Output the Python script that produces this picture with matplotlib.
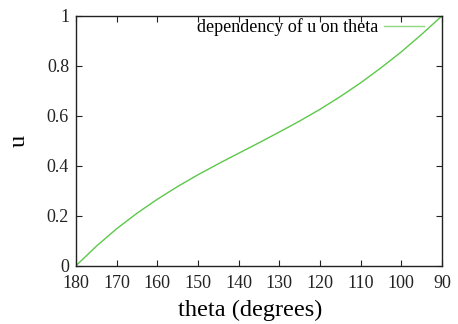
#!/usr/bin/env python3
# u versus theta, gnuplot-like look

import matplotlib
matplotlib.use("Agg")
import matplotlib.pyplot as plt

# values
theta_deg = [180, 175, 170, 165, 160, 155, 150, 145, 140, 135,
             130, 125, 120, 115, 110, 105, 100, 95, 90]
u_vals = [0.0, 0.078, 0.148, 0.210, 0.266, 0.317, 0.364, 0.408, 0.450, 0.492,
          0.535, 0.579, 0.626, 0.677, 0.732, 0.792, 0.856, 0.926, 1.0]

x_ticks = [180, 170, 160, 150, 140, 130, 120, 110, 100, 90]
y_ticks = [0, 0.2, 0.4, 0.6, 0.8, 1]
y_tick_labels = ["0", "0.2", "0.4", "0.6", "0.8", "1"]

plt.rcParams['font.family'] = ['Liberation Serif', 'DejaVu Serif']

fig = plt.figure(figsize=(4.58, 3.24), dpi=100)
ax = fig.add_axes([0.166, 0.18, 0.799, 0.771])

ax.plot(theta_deg, u_vals, color='#5cc84a', lw=1.0, label='dependency of u on theta')

ax.set_xlim(180, 90)
ax.set_ylim(0, 1)
ax.set_xticks(x_ticks)
ax.set_xticklabels([str(t) for t in x_ticks])
ax.set_yticks(y_ticks)
ax.set_yticklabels(y_tick_labels)
ax.tick_params(direction='in', top=True, right=True, length=4, width=0.8,
               labelsize=13, colors='#222222')
ax.tick_params(axis='x', pad=7)
ax.tick_params(axis='y', pad=5)
for s in ax.spines.values():
    s.set_linewidth(1.0)
    s.set_color('#222222')

ax.set_xlabel('theta (degrees)', fontsize=17.5)
ax.xaxis.set_label_coords(0.477, -0.135, transform=ax.transAxes)
ax.set_ylabel('u', fontsize=17.5, labelpad=12)

leg = ax.legend(loc='upper right', bbox_to_anchor=(0.951, 0.99), frameon=False,
                fontsize=13, markerfirst=False, handlelength=2.2,
                handletextpad=0.33, borderaxespad=0, borderpad=0)
leg.get_lines()[0].set_color('#8fd880')

fig.savefig('out.png', dpi=100)
